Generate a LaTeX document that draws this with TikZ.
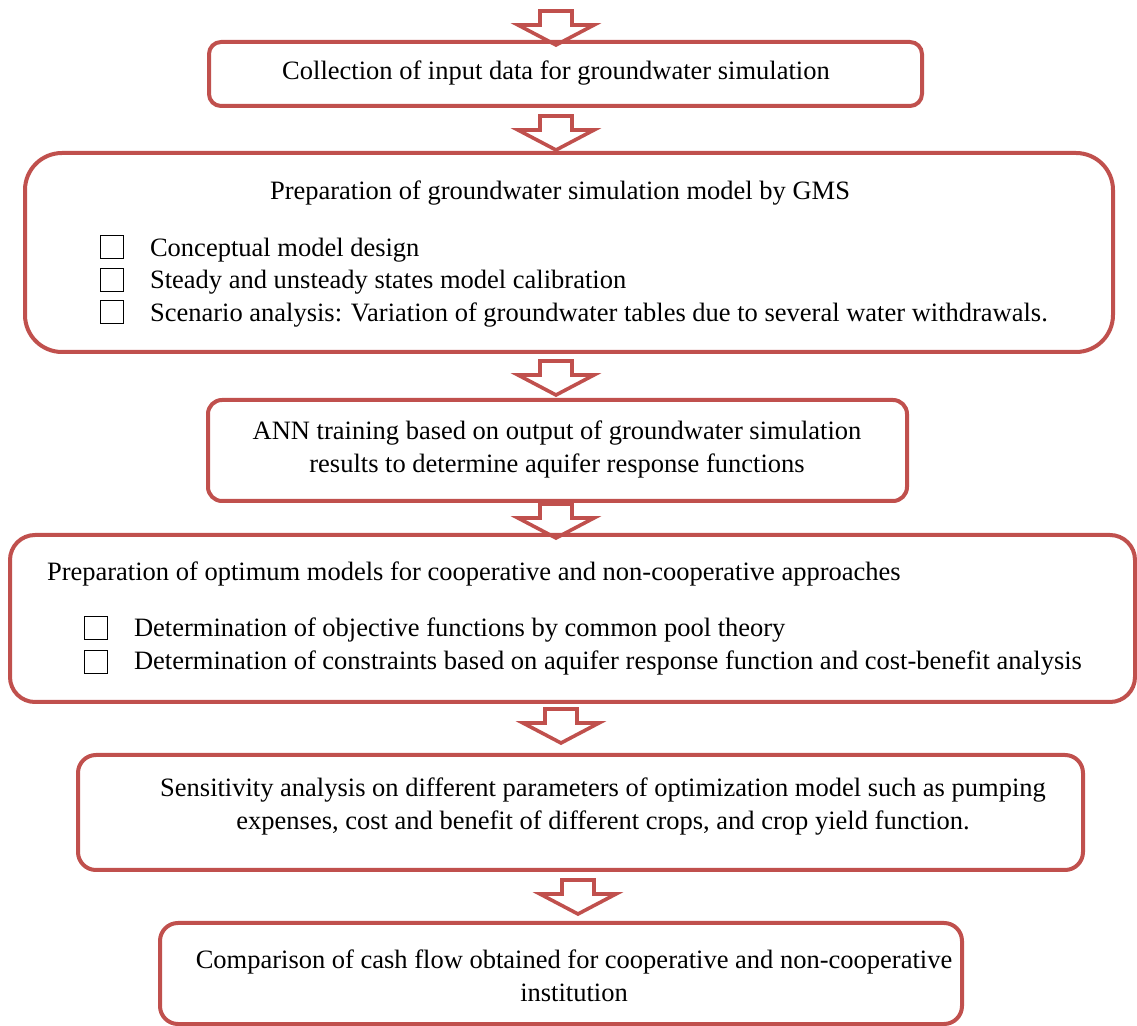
\documentclass[tikz,border=0pt]{standalone}
\usepackage{fontspec}
\setmainfont{Liberation Serif}
\usetikzlibrary{fit}
\definecolor{boxred}{HTML}{C0504D}

\begin{document}
\begin{tikzpicture}[x=0.5pt, y=-0.5pt,
  font=\fontsize{13.25}{16.5}\selectfont,
  stage/.style={draw=boxred, line width=2pt, inner sep=0pt},
  tick/.style={draw, line width=0.75pt, minimum size=11.5pt, inner sep=0pt},
  blockarrow/.pic={\draw [boxred, line width=1.8pt] (-16,-34) -- (16,-34) -- (16,-20) -- (38,-20) -- (0,0) -- (-38,-20) -- (-16,-20) -- cycle;}]

\useasboundingbox (0,0) rectangle (1137,1026);

\node [stage, rounded corners=6pt, fit={(209,42) (922,106)}] (collect) {};
\node [anchor=base] (collecttxt) at (556,80) {Collection of input data for groundwater simulation};

\node [stage, rounded corners=18.5pt, fit={(25,153) (1113,352)}] (gms) {};
\node [anchor=base] (gmstxt) at (560,200) {Preparation of groundwater simulation model by GMS};
\node [tick] (gmsa) at (112,247) {};
\node [anchor=base west] (gmsatxt) at (143,257) {Conceptual model design};
\node [tick] (gmsb) at (112,280) {};
\node [anchor=base west] (gmsbtxt) at (143,289) {Steady and unsteady states model calibration};
\node [tick] (gmsc) at (112,312) {};
\node [anchor=base west] (gmsctxt) at (143,322) {Scenario analysis: Variation of groundwater tables due to several water withdrawals.};

\node [stage, rounded corners=7pt, fit={(208,400) (907,501)}] (ann) {};
\node [align=center] (anntxt) at (557,449) {ANN training based on output of groundwater simulation\\results to determine aquifer response functions};

\node [stage, rounded corners=12.5pt, fit={(10,535) (1135,702)}] (optim) {};
\node [anchor=base west] (optimtxt) at (40,581) {Preparation of optimum models for cooperative and non-cooperative approaches};
\node [tick] (optima) at (96,628) {};
\node [anchor=base west] (optimatxt) at (127,637) {Determination of objective functions by common pool theory};
\node [tick] (optimb) at (96,662) {};
\node [anchor=base west] (optimbtxt) at (127,670) {Determination of constraints based on aquifer response function and cost-benefit analysis};

\node [stage, rounded corners=9pt, fit={(78,755) (1083,870)}] (sens) {};
\node [align=center] (senstxt) at (603,807) {Sensitivity analysis on different parameters of optimization model such as pumping\\expenses, cost and benefit of different crops, and crop yield function.};

\node [stage, rounded corners=9pt, fit={(160,923) (962,1024)}] (comp) {};
\node [align=center] (comptxt) at (574,976) {Comparison of cash flow obtained for cooperative and non-cooperative\\institution};

\coordinate (tipa) at (556,45);
\coordinate (tipb) at (556,150);
\coordinate (tipc) at (556,395);
\coordinate (tipd) at (556,538);
\coordinate (tipe) at (561,743);
\coordinate (tipf) at (578,914);
\pic at (tipa) {blockarrow};
\pic at (tipb) {blockarrow};
\pic at (tipc) {blockarrow};
\pic at (tipd) {blockarrow};
\pic at (tipe) {blockarrow};
\pic at (tipf) {blockarrow};

\end{tikzpicture}
\end{document}
